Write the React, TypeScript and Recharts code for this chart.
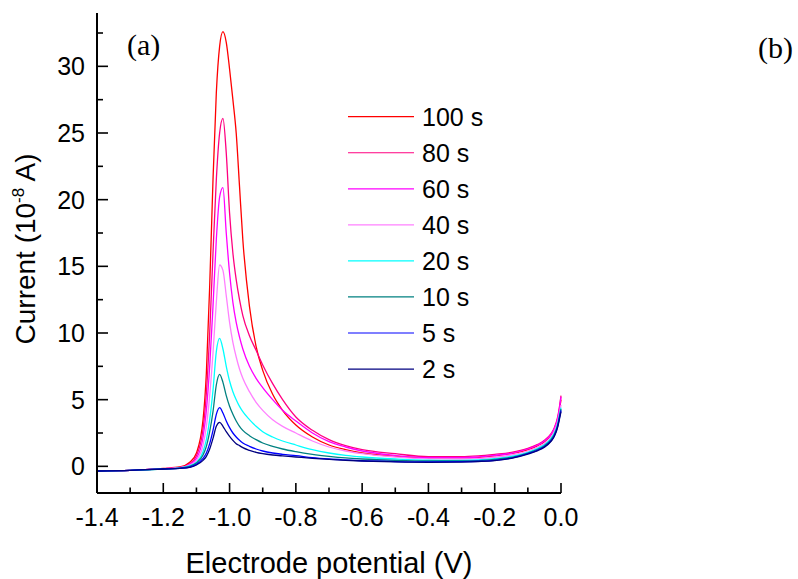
import React from "react";
import { LineChart, Line, XAxis, YAxis, Legend } from "recharts";

// potential (V) sample points
const potential = [
  -1.4, -1.3, -1.2, -1.15, -1.12, -1.1, -1.08, -1.07, -1.06, -1.05, -1.04, -1.03, -1.02, -1.01, -1.0,
  -0.99, -0.98, -0.97, -0.96, -0.94, -0.92, -0.9, -0.87, -0.84, -0.8, -0.75, -0.7, -0.65, -0.6, -0.5,
  -0.4, -0.3, -0.25, -0.2, -0.15, -0.1, -0.07, -0.05, -0.03, -0.02, -0.01, -0.005, 0,
];

// current (10^-8 A) per deposition time
const t100 = [
  -0.35, -0.3, -0.15, -0.05, 0.3, 1.0, 3.5, 7, 13.5, 21.5, 28, 31.5, 32.6, 31.8, 29.8,
  27.5, 25, 21, 17, 12, 9, 7.2, 5.4, 4.2, 3.1, 2.2, 1.6, 1.25, 1.0, 0.75,
  0.62, 0.62, 0.66, 0.78, 0.95, 1.25, 1.55, 1.85, 2.35, 2.8, 3.55, 4.2, 5.0,
];
const t80 = [
  -0.35, -0.3, -0.17, -0.08, 0.2, 0.8, 2.8, 5.5, 10, 16, 21.5, 25, 26.1, 23.5, 19,
  16, 14, 12.5, 11.3, 9.8, 8.7, 7.6, 6.2, 5.0, 3.7, 2.7, 2.0, 1.55, 1.25, 0.95,
  0.72, 0.72, 0.78, 0.9, 1.05, 1.35, 1.65, 1.95, 2.45, 2.9, 3.7, 4.4, 5.3,
];
const t60 = [
  -0.35, -0.3, -0.18, -0.1, 0.15, 0.6, 2.2, 4.2, 7.5, 12, 17, 20.2, 20.9, 17.5, 14.5,
  12.3, 10.8, 9.7, 8.8, 7.5, 6.6, 5.9, 5.0, 4.2, 3.4, 2.5, 1.85, 1.45, 1.15, 0.82,
  0.65, 0.65, 0.7, 0.82, 0.98, 1.3, 1.6, 1.9, 2.4, 2.85, 3.6, 4.3, 5.2,
];
const t40 = [
  -0.35, -0.3, -0.18, -0.1, 0.1, 0.45, 1.6, 3.0, 5.3, 8.5, 12.3, 15.1, 14.7, 12.8, 10.8,
  9.3, 8.2, 7.3, 6.6, 5.6, 4.8, 4.2, 3.5, 3.0, 2.5, 1.9, 1.45, 1.15, 0.95, 0.7,
  0.56, 0.55, 0.58, 0.68, 0.85, 1.15, 1.45, 1.72, 2.2, 2.65, 3.35, 3.95, 4.6,
];
const t20 = [
  -0.35, -0.3, -0.2, -0.12, 0.05, 0.3, 1.1, 2.0, 3.5, 5.7, 8.6, 9.6, 8.8, 7.5, 6.4,
  5.6, 5.0, 4.5, 4.1, 3.5, 3.0, 2.6, 2.2, 1.9, 1.6, 1.25, 1.0, 0.82, 0.7, 0.55,
  0.46, 0.45, 0.48, 0.58, 0.75, 1.05, 1.35, 1.62, 2.1, 2.5, 3.2, 3.8, 4.4,
];
const t10 = [
  -0.35, -0.3, -0.2, -0.13, 0, 0.25, 0.85, 1.5, 2.6, 4.1, 6.1, 6.9, 6.3, 5.3, 4.5,
  3.9, 3.4, 3.0, 2.7, 2.3, 2.0, 1.75, 1.5, 1.3, 1.1, 0.9, 0.75, 0.63, 0.55, 0.45,
  0.4, 0.4, 0.43, 0.52, 0.68, 1.0, 1.28, 1.55, 2.0, 2.4, 3.1, 3.7, 4.3,
];
const t5 = [
  -0.35, -0.3, -0.2, -0.15, -0.05, 0.15, 0.6, 1.0, 1.7, 2.7, 3.9, 4.4, 4.0, 3.4, 2.9,
  2.5, 2.2, 1.95, 1.75, 1.5, 1.3, 1.15, 1.0, 0.9, 0.8, 0.65, 0.55, 0.48, 0.42, 0.36,
  0.33, 0.35, 0.38, 0.45, 0.62, 0.95, 1.22, 1.48, 1.92, 2.3, 3.0, 3.6, 4.2,
];
const t2 = [
  -0.35, -0.3, -0.2, -0.15, -0.08, 0.1, 0.45, 0.75, 1.3, 2.1, 3.0, 3.3, 3.0, 2.6, 2.25,
  1.95, 1.7, 1.55, 1.4, 1.2, 1.05, 0.95, 0.85, 0.78, 0.7, 0.6, 0.52, 0.45, 0.4, 0.33,
  0.3, 0.32, 0.36, 0.43, 0.6, 0.92, 1.18, 1.44, 1.88, 2.25, 2.95, 3.5, 4.1,
];

const series = [
  { key: "t100", name: "100 s", color: "#ff0000", values: t100 },
  { key: "t80", name: "80 s", color: "#ff0080", values: t80 },
  { key: "t60", name: "60 s", color: "#ff00ff", values: t60 },
  { key: "t40", name: "40 s", color: "#ff80ff", values: t40 },
  { key: "t20", name: "20 s", color: "#00ffff", values: t20 },
  { key: "t10", name: "10 s", color: "#008080", values: t10 },
  { key: "t5", name: "5 s", color: "#0000ff", values: t5 },
  { key: "t2", name: "2 s", color: "#000080", values: t2 },
];

const xTicks = [-1.4, -1.3, -1.2, -1.1, -1.0, -0.9, -0.8, -0.7, -0.6, -0.5, -0.4, -0.3, -0.2, -0.1, 0];
const yTicks = [0, 2.5, 5, 7.5, 10, 12.5, 15, 17.5, 20, 22.5, 25, 27.5, 30, 32.5];

const rows = potential.map((v, i) => {
  const r: Record<string, number> = { v };
  series.forEach((s) => (r[s.key] = s.values[i]));
  return r;
});

const sans = '"Liberation Sans", Arial, sans-serif';
const serif = '"Liberation Serif", "Times New Roman", serif';

function XTick({ x, y, payload }: any) {
  const v = payload.value as number;
  const major = Math.round(v * 10) % 2 === 0;
  return (
    <g>
      <line x1={x} x2={x} y1={y} y2={y - (major ? 10 : 5.5)} stroke="#000" strokeWidth={1.6} />
      {major && (
        <text x={x} y={y + 33} textAnchor="middle" fontSize={25} fontFamily={sans} fill="#000">
          {v.toFixed(1)}
        </text>
      )}
    </g>
  );
}

function YTick({ x, y, payload }: any) {
  const v = payload.value as number;
  const major = v % 5 === 0;
  return (
    <g>
      <line x1={x} x2={x + (major ? 11 : 6)} y1={y} y2={y} stroke="#000" strokeWidth={1.6} />
      {major && (
        <text x={x - 12} y={y + 9} textAnchor="end" fontSize={25} fontFamily={sans} fill="#000">
          {v}
        </text>
      )}
    </g>
  );
}

const xTitle = ({ viewBox }: any) => (
  <text x={viewBox.x + viewBox.width / 2} y={573} textAnchor="middle" fontSize={29} fontFamily={sans} fill="#000">
    Electrode potential (V)
  </text>
);

const yTitle = ({ viewBox }: any) => {
  const cy = viewBox.y + viewBox.height / 2 - 4;
  return (
    <text x={35} y={cy} transform={`rotate(-90, 35, ${cy})`} textAnchor="middle" fontSize={28} fontFamily={sans} fill="#000">
      Current (10
      <tspan dy={-11} fontSize={17}>-8</tspan>
      <tspan dy={11}> A)</tspan>
    </text>
  );
};

const renderLegend = () => (
  <svg width={170} height={300}>
    {series.map((s, i) => {
      const cy = 21.7 + i * 36.05;
      return (
        <g key={s.key}>
          <line x1={8} x2={74} y1={cy} y2={cy} stroke={s.color} strokeWidth={1.2} />
          <text x={82} y={cy + 9} fontSize={25} fontFamily={sans} fill="#000">
            {s.name}
          </text>
        </g>
      );
    })}
  </svg>
);

export default function App() {
  return (
    <div style={{ position: "absolute", left: 0, top: 0, width: 798, height: 579, background: "#fff" }}>
      <LineChart width={798} height={579} data={rows} margin={{ top: 13, right: 237, bottom: 56, left: 37 }}>
        <XAxis
          dataKey="v"
          type="number"
          domain={[-1.4, 0]}
          ticks={xTicks}
          interval={0}
          tickSize={0}
          tickMargin={0}
          tickLine={false}
          tick={<XTick />}
          axisLine={{ stroke: "#000", strokeWidth: 2 }}
          height={30}
          label={xTitle}
        />
        <YAxis
          type="number"
          domain={[-2, 34]}
          ticks={yTicks}
          interval={0}
          allowDataOverflow
          tickSize={0}
          tickMargin={0}
          tickLine={false}
          tick={<YTick />}
          axisLine={{ stroke: "#000", strokeWidth: 2 }}
          width={60}
          label={yTitle}
        />
        <Legend
          layout="vertical"
          align="center"
          verticalAlign="middle"
          content={renderLegend}
          wrapperStyle={{ position: "absolute", left: 340, top: 95, width: 170, height: 300 }}
        />
        {series.map((s) => (
          <Line
            key={s.key}
            type="monotone"
            dataKey={s.key}
            name={s.name}
            stroke={s.color}
            strokeWidth={1.3}
            dot={false}
            activeDot={false}
            isAnimationActive={false}
          />
        ))}
      </LineChart>
      <div style={{ position: "absolute", left: 127, top: 30, fontFamily: serif, fontSize: 30, lineHeight: 1 }}>(a)</div>
      <div style={{ position: "absolute", left: 758, top: 33, fontFamily: serif, fontSize: 30, lineHeight: 1 }}>(b)</div>
    </div>
  );
}
